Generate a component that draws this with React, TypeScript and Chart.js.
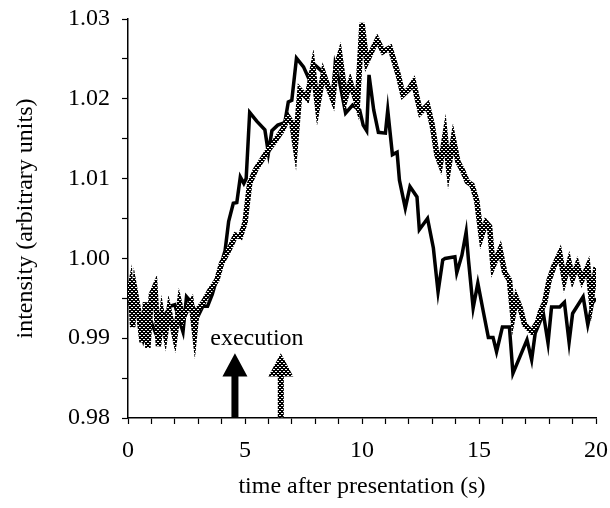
import React, { useEffect, useRef } from "react";
import { Chart, registerables } from "chart.js";

Chart.register(...registerables);

// ---- data ----
const blackTimes = [
  0, 0.2, 0.4, 0.5, 0.65, 0.8, 1.0, 1.2, 1.4, 1.6, 1.8, 2.0, 2.2, 2.35, 2.5, 2.7, 2.85, 3.0, 3.2, 3.4,
  3.6, 3.8, 4.0, 4.15, 4.3, 4.5, 4.65, 4.8, 4.95, 5.05, 5.2, 5.5, 5.85, 6.0, 6.15, 6.4, 6.7, 6.85, 7.0, 7.2,
  7.5, 7.7, 8.0, 8.3, 8.5, 8.75, 8.85, 9.05, 9.3, 9.6, 9.9, 10.05, 10.2, 10.3, 10.5, 10.7, 11.0, 11.1, 11.3, 11.5,
  11.6, 11.85, 12.05, 12.35, 12.45, 12.8, 13.05, 13.25, 13.45, 13.55, 13.97, 14.05, 14.27, 14.45, 14.55, 14.75, 14.95, 15.2, 15.4, 15.6,
  15.75, 16.0, 16.3, 16.45, 17.05, 17.25, 17.4, 17.75, 17.95, 18.1, 18.45, 18.65, 18.85, 19.0, 19.45, 19.65, 19.85, 20.0,
];
const blackValues = [
  0.9945, 0.994, 0.9935, 0.9914, 0.9898, 0.9915, 0.992, 0.9905, 0.9915, 0.993, 0.994, 0.9942, 0.9922, 0.9908, 0.9952, 0.9945, 0.9935, 0.9928, 0.994, 0.994,
  0.9955, 0.9975, 0.9995, 1.001, 1.0046, 1.0069, 1.007, 1.0102, 1.0094, 1.01, 1.0183, 1.0172, 1.0161, 1.0132, 1.016, 1.0167, 1.017, 1.0196, 1.0198, 1.0251,
  1.024, 1.0227, 1.0242, 1.0234, 1.0222, 1.0199, 1.0242, 1.022, 1.0182, 1.0192, 1.0186, 1.0167, 1.016, 1.023, 1.0186, 1.0158, 1.0157, 1.0186, 1.013, 1.0133,
  1.0098, 1.0063, 1.009, 1.0077, 1.0036, 1.005, 1.0013, 0.9958, 0.9998, 1.0, 1.0002, 0.9982, 1.0004, 1.0033, 0.9998, 0.9938, 0.9969, 0.9931, 0.9901, 0.9901,
  0.9883, 0.9914, 0.9914, 0.9856, 0.9898, 0.9873, 0.9906, 0.9931, 0.9894, 0.9939, 0.9939, 0.9945, 0.9895, 0.9931, 0.9952, 0.9917, 0.9944, 0.995,
];

const greyTimes = [
  0, 0.1, 0.2, 0.3, 0.45, 0.6, 0.75, 0.85, 1.0, 1.15, 1.3, 1.45, 1.6, 1.75, 2.0, 2.2, 2.35, 2.5, 2.7, 2.85,
  2.95, 3.2, 3.5, 3.8, 4.0, 4.3, 4.6, 4.8, 5.0, 5.2, 5.45, 5.8, 6.0, 6.3, 6.6, 6.85, 7.0, 7.15, 7.35, 7.65,
  7.9, 8.1, 8.35, 8.55, 8.75, 8.9, 9.05, 9.3, 9.5, 9.8, 10.0, 10.2, 10.45, 10.65, 10.9, 11.2, 11.55, 11.75, 12.0, 12.2,
  12.5, 12.8, 13.0, 13.2, 13.35, 13.55, 13.7, 13.9, 14.1, 14.3, 14.5, 14.7, 14.9, 15.1, 15.3, 15.45, 15.6, 15.9, 16.1, 16.3,
  16.45, 16.6, 16.75, 16.95, 17.25, 17.5, 17.65, 17.8, 18.0, 18.2, 18.45, 18.65, 18.85, 19.0, 19.2, 19.4, 19.65, 19.8, 20.0,
];
const greyValues = [
  0.995, 0.9965, 0.9914, 0.996, 0.9935, 0.9895, 0.9945, 0.9888, 0.9955, 0.9965, 0.989, 0.993, 0.9905, 0.9935, 0.9901, 0.9944, 0.9925, 0.9935, 0.9945, 0.9906,
  0.9935, 0.9944, 0.996, 0.9973, 0.9994, 1.001, 1.0029, 1.0027, 1.0045, 1.0094, 1.0111, 1.0127, 1.0136, 1.0148, 1.0161, 1.0177, 1.017, 1.014, 1.0211, 1.0201,
  1.024, 1.019, 1.0232, 1.0215, 1.0199, 1.024, 1.0255, 1.0201, 1.0221, 1.0192, 1.0295, 1.0246, 1.0262, 1.0274, 1.0259, 1.0264, 1.023, 1.0205, 1.0212, 1.0221,
  1.0183, 1.0192, 1.0167, 1.013, 1.0118, 1.0155, 1.0113, 1.015, 1.0121, 1.011, 1.0096, 1.0092, 1.0073, 1.0027, 1.0045, 1.004, 0.999, 1.0011, 0.9982, 0.9973,
  0.9927, 0.995, 0.9939, 0.9917, 0.9908, 0.992, 0.9935, 0.9944, 0.9973, 0.999, 1.0006, 0.9973, 0.9995, 0.9975, 0.9992, 0.9973, 0.999, 0.9948, 0.9989,
];

const xTickLabels = [0, 5, 10, 15, 20];
const yTickLabels = [0.98, 0.99, 1.0, 1.01, 1.02, 1.03];

const arrowTimes = [4.57, 6.53]; // black (solid) arrow, then hatched arrow
const arrowBase = 0.9801;
const arrowHeadBase = 0.9852;
const arrowTip = 0.9881;
const annotationText = "execution";
const annotationTime = 5.51;
const annotationValue = 0.98915;

const xTitle = "time after presentation (s)";
const yTitle = "intensity (arbitrary units)";

const FONT = "'Liberation Serif', 'DejaVu Serif', serif";

function makePattern(): CanvasPattern | string {
  const c = document.createElement("canvas");
  c.width = 4;
  c.height = 4;
  const g = c.getContext("2d");
  if (!g) return "#555";
  g.fillStyle = "#000000";
  g.fillRect(0, 0, 4, 4);
  g.fillStyle = "#ffffff";
  g.fillRect(1, 1, 1, 1);
  g.fillRect(3, 3, 1, 1);
  g.fillRect(2, 1, 1, 1);
  g.fillRect(0, 3, 1, 1);
  const p = g.createPattern(c, "repeat");
  return p || "#555";
}

export default function App() {
  const ref = useRef<HTMLCanvasElement | null>(null);

  useEffect(() => {
    const canvas = ref.current;
    if (!canvas) return;
    const pattern = makePattern();

    const arrowPlugin = {
      id: "arrows",
      afterDatasetsDraw(chart: any) {
        const ctx = chart.ctx as CanvasRenderingContext2D;
        const xs = chart.scales.x;
        const ys = chart.scales.y;
        arrowTimes.forEach((t, i) => {
          const cx = xs.getPixelForValue(t);
          const yb = ys.getPixelForValue(arrowBase);
          const yh = ys.getPixelForValue(arrowHeadBase);
          const yt = ys.getPixelForValue(arrowTip);
          const shaft = i === 0 ? 3.5 : 3;
          const head = 12.5;
          ctx.save();
          ctx.beginPath();
          ctx.moveTo(cx - shaft, yb);
          ctx.lineTo(cx - shaft, yh);
          ctx.lineTo(cx - head, yh);
          ctx.lineTo(cx, yt);
          ctx.lineTo(cx + head, yh);
          ctx.lineTo(cx + shaft, yh);
          ctx.lineTo(cx + shaft, yb);
          ctx.closePath();
          ctx.fillStyle = i === 0 ? "#000000" : (pattern as any);
          ctx.fill();
          ctx.restore();
        });
        ctx.save();
        ctx.font = `24px ${FONT}`;
        ctx.fillStyle = "#000";
        ctx.textAlign = "center";
        ctx.textBaseline = "alphabetic";
        ctx.fillText(
          annotationText,
          xs.getPixelForValue(annotationTime),
          ys.getPixelForValue(annotationValue)
        );
        ctx.restore();
      },
    };

    const chart = new Chart(canvas, {
      type: "line",
      data: {
        datasets: [
          {
            label: "grey",
            data: greyTimes.map((t, i) => ({ x: t, y: greyValues[i] })),
            borderColor: pattern as any,
            borderWidth: 5.5,
            pointRadius: 0,
            tension: 0,
            fill: false,
            borderJoinStyle: "miter",
          },
          {
            label: "black",
            data: blackTimes.map((t, i) => ({ x: t, y: blackValues[i] })),
            borderColor: "#000000",
            borderWidth: 3.5,
            pointRadius: 0,
            tension: 0,
            fill: false,
            borderJoinStyle: "miter",
          },
        ],
      },
      options: {
        animation: false,
        responsive: false,
        events: [],
        layout: { padding: { top: 19, right: 14, left: 0, bottom: 0 } },
        plugins: {
          legend: { display: false },
          tooltip: { enabled: false },
        },
        scales: {
          x: {
            type: "linear",
            min: 0,
            max: 20,
            afterFit: (s: any) => {
              s.height = 90;
              s.paddingLeft = 0;
              s.paddingRight = 0;
            },
            border: { display: true, color: "#000", width: 1.5 },
            grid: {
              drawOnChartArea: false,
              drawTicks: true,
              tickLength: 6,
              tickColor: "#000",
              tickWidth: 1.2,
            },
            ticks: {
              stepSize: 1,
              autoSkip: false,
              maxRotation: 0,
              padding: 12,
              color: "#000",
              font: { family: FONT, size: 24 },
              callback: (v: any) => {
                const n = Number(v);
                return xTickLabels.some((l) => Math.abs(l - n) < 1e-6) ? String(Math.round(n)) : "";
              },
            },
            title: {
              display: true,
              text: xTitle,
              color: "#000",
              font: { family: FONT, size: 24 },
              padding: { top: 0, bottom: 7 },
            },
          },
          y: {
            type: "linear",
            min: 0.98,
            max: 1.03,
            afterFit: (s: any) => {
              s.width = 128;
              s.paddingTop = 0;
              s.paddingBottom = 0;
            },
            border: { display: true, color: "#000", width: 1.5 },
            grid: {
              drawOnChartArea: false,
              drawTicks: true,
              tickLength: 6,
              tickColor: "#000",
              tickWidth: 1.2,
            },
            ticks: {
              stepSize: 0.005,
              autoSkip: false,
              padding: 12,
              color: "#000",
              font: { family: FONT, size: 24 },
              callback: (v: any) => {
                const n = Number(v);
                const hit = yTickLabels.find((l) => Math.abs(l - n) < 1e-6);
                return hit !== undefined ? hit.toFixed(2) : "";
              },
            },
            title: {
              display: true,
              text: yTitle,
              color: "#000",
              font: { family: FONT, size: 24 },
              padding: { top: 11, bottom: 0 },
            },
          },
        },
      },
      plugins: [arrowPlugin],
    });

    return () => chart.destroy();
  }, []);

  return (
    <div style={{ position: "fixed", left: 0, top: 0, width: 610, height: 508, background: "#fff" }}>
      <canvas ref={ref} width={610} height={508} />
    </div>
  );
}
